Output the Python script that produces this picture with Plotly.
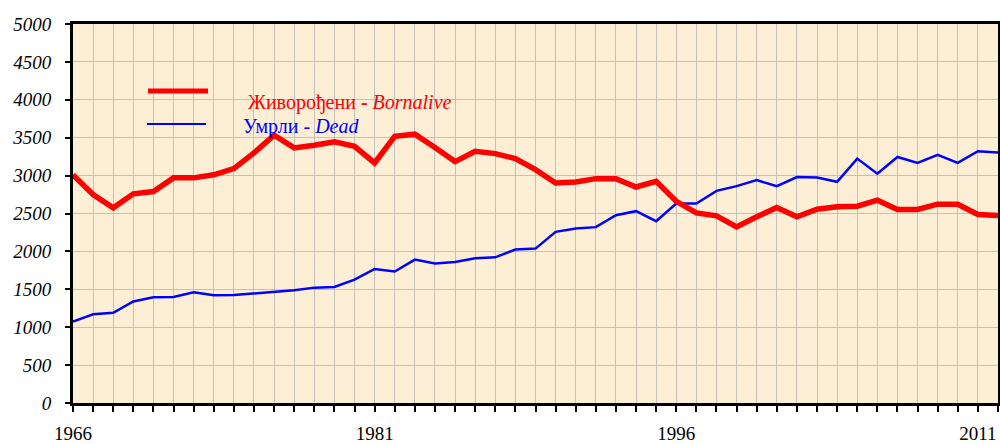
import plotly.graph_objects as go

years = list(range(1966, 2013))
born_alive = [3010, 2750, 2575, 2760, 2790, 2970, 2970, 3010, 3092, 3300,
              3532, 3365, 3400, 3445, 3387, 3167, 3519, 3546, 3370, 3185,
              3321, 3290, 3224, 3079, 2903, 2916, 2960, 2960, 2850, 2925,
              2661, 2507, 2469, 2324, 2456, 2579, 2456, 2557, 2588, 2597,
              2676, 2553, 2553, 2623, 2623, 2487, 2474]
dead = [1075, 1170, 1190, 1340, 1395, 1400, 1460, 1420, 1425, 1447,
        1474, 1487, 1522, 1530, 1628, 1768, 1735, 1892, 1839, 1861,
        1909, 1922, 2024, 2037, 2258, 2302, 2320, 2478, 2531, 2399,
        2632, 2632, 2799, 2861, 2940, 2861, 2980, 2975, 2918, 3224,
        3026, 3246, 3167, 3273, 3167, 3321, 3304]
x_labels = {1966: "1966", 1981: "1981", 1996: "1996", 2011: "2011"}
y_ticks = list(range(0, 5001, 500))

fig = go.Figure()
fig.add_trace(go.Scatter(x=years, y=dead, mode="lines",
                         line=dict(color="#0000FF", width=2.5), showlegend=False))
fig.add_trace(go.Scatter(x=years, y=born_alive, mode="lines",
                         line=dict(color="#FF0000", width=5.5), showlegend=False))

serif = "Liberation Serif"

fig.update_layout(
    width=1000, height=444,
    margin=dict(l=73, r=2, t=24, b=41),
    paper_bgcolor="white",
    plot_bgcolor="#FCEFD5",
    font=dict(family=serif, size=18, color="black"),
    xaxis=dict(
        range=[1966, 2012],
        tickvals=years,
        ticktext=[x_labels.get(y, "") for y in years],
        ticks="outside", ticklen=6, tickwidth=2, tickcolor="black",
        showgrid=True, gridcolor="#C4C0BC", gridwidth=1,
        showline=True, linecolor="black", linewidth=3, mirror=True,
        zeroline=False, automargin=False,
        tickfont=dict(family=serif, size=19, color="black"),
        ticklabelstandoff=5,
    ),
    yaxis=dict(
        range=[0, 5000],
        tickvals=y_ticks,
        ticktext=[str(v) for v in y_ticks],
        ticks="outside", ticklen=5, tickwidth=2, tickcolor="black",
        showgrid=True, gridcolor="#C4C0BC", gridwidth=1,
        showline=True, linecolor="black", linewidth=3, mirror=True,
        zeroline=False, automargin=False,
        tickfont=dict(family=serif, size=19, color="black", style="italic"),
        ticklabelstandoff=10,
    ),
)

# legend samples
fig.add_shape(type="line", xref="paper", yref="paper",
              x0=(148 - 73) / 925, x1=(208 - 73) / 925,
              y0=(403 - 91) / 379, y1=(403 - 91) / 379,
              line=dict(color="#FF0000", width=5))
fig.add_shape(type="line", xref="paper", yref="paper",
              x0=(147 - 73) / 925, x1=(206 - 73) / 925,
              y0=(403 - 124) / 379, y1=(403 - 124) / 379,
              line=dict(color="#0000FF", width=2))
fig.add_annotation(xref="paper", yref="paper",
                   x=(246 - 73) / 925, y=(403 - 102.5) / 379,
                   xanchor="left", yanchor="middle", showarrow=False,
                   text="Живорођени <b>-</b> <i>Bornalive</i>",
                   font=dict(family=serif, size=20, color="#FF0000"))
fig.add_annotation(xref="paper", yref="paper",
                   x=(241 - 73) / 925, y=(403 - 126.5) / 379,
                   xanchor="left", yanchor="middle", showarrow=False,
                   text="Умрли - <i>Dead</i>",
                   font=dict(family=serif, size=20, color="#0000FF"))

fig.write_html("out.html",
               config={"displayModeBar": False},
               post_script="document.body.style.margin='0';document.body.style.padding='0';")
